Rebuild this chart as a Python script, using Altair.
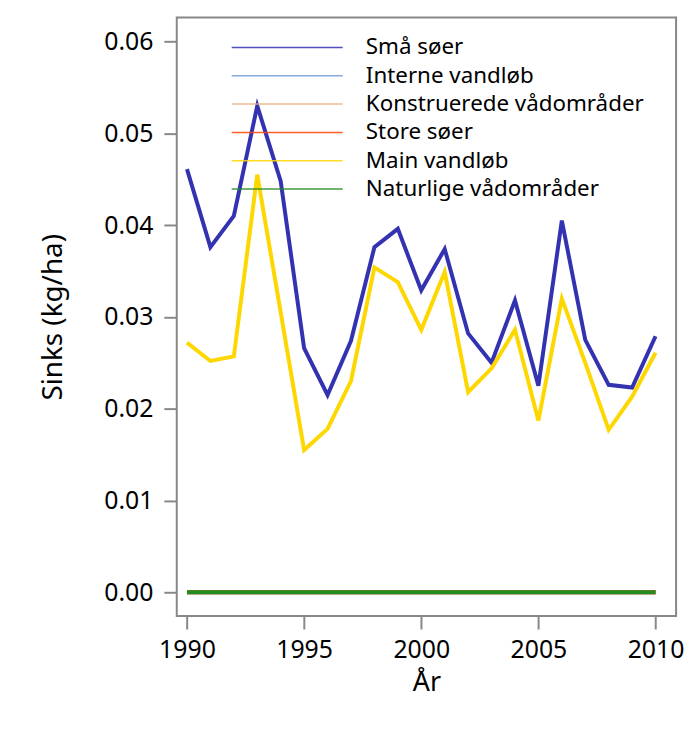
import altair as alt
import pandas as pd

years = list(range(1990, 2011))
series_names = ["Små søer", "Interne vandløb", "Konstruerede vådområder",
                "Store søer", "Main vandløb", "Naturlige vådområder"]
series_colors = ["#3333B2", "#6F9BDB", "#E8B07F", "#FF4500", "#FFD700", "#228B22"]

sma_soer = [0.0461, 0.0376, 0.0410, 0.0530, 0.0448, 0.0266, 0.0215, 0.0274,
            0.0376, 0.0396, 0.0329, 0.0374, 0.0282, 0.0250, 0.0318, 0.0225,
            0.0405, 0.0275, 0.0226, 0.0223, 0.0279]
interne_vandlob = [0.0] * 21
konstruerede = [0.0] * 21
store_soer = [0.0] * 21
main_vandlob = [0.0272, 0.0252, 0.0257, 0.0455, 0.0305, 0.0155, 0.0178, 0.0230,
                0.0354, 0.0338, 0.0286, 0.0349, 0.0218, 0.0244, 0.0286, 0.0187,
                0.0320, 0.0250, 0.0177, 0.0213, 0.0261]
naturlige = [0.0] * 21

x_ticks = [1990, 1995, 2000, 2005, 2010]
y_ticks = [0.0, 0.01, 0.02, 0.03, 0.04, 0.05, 0.06]

values = [sma_soer, interne_vandlob, konstruerede, store_soer, main_vandlob, naturlige]
rows = []
for i, (name, vals) in enumerate(zip(series_names, values)):
    for yr, v in zip(years, vals):
        rows.append({"År": yr, "Sinks": v, "Serie": name, "idx": i})
df = pd.DataFrame(rows)

FONT = "Noto Sans"

chart = alt.Chart(df).mark_line(strokeWidth=4, strokeJoin="miter").encode(
    x=alt.X("År:Q",
            scale=alt.Scale(domain=[1989.564, 2010.876], nice=False, zero=False),
            axis=alt.Axis(values=x_ticks, format="d", title="År", grid=False,
                          domain=False, tickSize=13, tickWidth=2, tickColor="#888888",
                          labelFontSize=25, labelPadding=9, titleFontSize=27,
                          titlePadding=7, titleFontWeight="normal",
                          labelColor="black", titleColor="black",
                          labelFont=FONT, titleFont=FONT)),
    y=alt.Y("Sinks:Q",
            scale=alt.Scale(domain=[-0.0026, 0.06263], nice=False, zero=False),
            axis=alt.Axis(values=y_ticks, format=".2f", title="Sinks (kg/ha)", grid=False,
                          domain=False, tickSize=13, tickWidth=2, tickColor="#888888",
                          labelFontSize=25, labelPadding=11, titleFontSize=28,
                          titlePadding=36, titleFontWeight="normal",
                          labelColor="black", titleColor="black",
                          labelFont=FONT, titleFont=FONT)),
    color=alt.Color("Serie:N",
                    scale=alt.Scale(domain=series_names, range=series_colors),
                    sort=series_names,
                    legend=alt.Legend(title=None, orient="none", legendX=100, legendY=19,
                                      symbolType="M-10,0H10", symbolSize=125,
                                      symbolStrokeWidth=1.5, symbolOpacity=0.85,
                                      labelFontSize=22.5, labelFont=FONT, labelColor="black",
                                      labelOffset=68, rowPadding=5.5, labelLimit=500)),
    detail="idx:O",
).properties(
    width=503,
    height=603,
    autosize=alt.AutoSizeParams(type="none"),
    padding={"left": 170, "top": 7, "right": 10, "bottom": 88},
).configure_view(
    stroke="#888888", strokeWidth=2
)

chart.save("out.html", embed_options={"renderer": "svg", "actions": False})
